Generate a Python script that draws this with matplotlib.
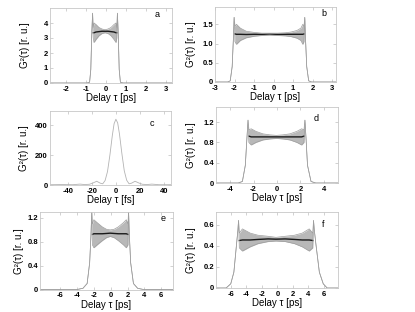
import numpy as np
import matplotlib
matplotlib.use("Agg")
import matplotlib.pyplot as plt

plt.rcParams['font.family'] = ['Liberation Sans', 'DejaVu Sans']

# ---- data (envelopes of the oscillating traces) ----
# a
tau_a = [-2.8, -0.95, -0.82, -0.76, -0.71, -0.67, -0.64, -0.6, -0.5, -0.35, -0.2, -0.05, 0.1, 0.25, 0.4, 0.5, 0.54, 0.57, 0.61, 0.66, 0.72, 0.85, 3.3]
upper_a = [0, 0, 0.05, 0.9, 3.4, 4.65, 3.7, 4.0, 3.9, 3.7, 3.6, 3.55, 3.6, 3.7, 3.9, 4.0, 3.7, 4.65, 3.4, 0.9, 0.05, 0, 0]
lower_a = [0, 0, 0.05, 0.9, 3.4, 4.65, 3.0, 2.7, 2.9, 3.15, 3.3, 3.35, 3.3, 3.15, 2.9, 2.7, 3.0, 4.65, 3.4, 0.9, 0.05, 0, 0]

# b
tau_b = [-3.0, -2.35, -2.22, -2.12, -2.06, -2.02, -1.98, -1.9, -1.7, -1.4, -1.0, -0.6, -0.2, 0.2, 0.6, 0.9, 1.2, 1.4, 1.5, 1.56, 1.6, 1.64, 1.7, 1.8, 1.95, 3.2]
upper_b = [0, 0, 0.03, 0.4, 1.1, 1.68, 1.45, 1.5, 1.4, 1.32, 1.29, 1.27, 1.27, 1.27, 1.28, 1.3, 1.34, 1.4, 1.5, 1.45, 1.68, 1.1, 0.4, 0.03, 0, 0]
lower_b = [0, 0, 0.03, 0.4, 1.1, 1.68, 1.05, 0.98, 1.08, 1.15, 1.19, 1.21, 1.22, 1.21, 1.2, 1.18, 1.14, 1.08, 0.98, 1.05, 1.68, 1.1, 0.4, 0.03, 0, 0]

# c (fs)
tau_c = [-55, -45, -36, -30, -26, -22, -19, -16, -13, -11, -9, -7, -5, -3, -1.5, 0, 1.5, 3, 5, 7, 9, 11, 13, 16, 19, 22, 26, 30, 36, 46]
g_c = [2, 3, 2, 6, 3, 5, 14, 25, 12, 8, 30, 90, 200, 330, 410, 440, 415, 340, 210, 95, 32, 8, 12, 25, 14, 5, 3, 6, 2, 2]

# d
tau_d = [-5.2, -3.3, -2.95, -2.7, -2.56, -2.47, -2.4, -2.2, -1.8, -1.2, -0.6, -0.05, 0.5, 1.1, 1.7, 2.1, 2.3, 2.38, 2.47, 2.6, 2.9, 3.3, 5.2]
upper_d = [0, 0, 0.03, 0.35, 0.9, 1.24, 1.05, 1.07, 1.02, 0.97, 0.95, 0.94, 0.95, 0.97, 1.02, 1.07, 1.05, 1.24, 0.9, 0.35, 0.03, 0, 0]
lower_d = [0, 0, 0.03, 0.35, 0.9, 1.24, 0.8, 0.75, 0.8, 0.85, 0.87, 0.88, 0.87, 0.85, 0.8, 0.75, 0.8, 1.24, 0.9, 0.35, 0.03, 0, 0]

# e
tau_e = [-8.4, -4.0, -3.3, -2.8, -2.5, -2.35, -2.25, -2.18, -2.0, -1.6, -1.0, -0.5, -0.06, 0.4, 0.9, 1.5, 1.85, 2.05, 2.12, 2.22, 2.37, 2.7, 3.2, 3.9, 7.4]
upper_e = [0, 0, 0.02, 0.1, 0.45, 0.9, 1.32, 1.1, 1.17, 1.12, 1.05, 1.01, 1.0, 1.01, 1.05, 1.12, 1.17, 1.1, 1.32, 0.9, 0.45, 0.1, 0.02, 0, 0]
lower_e = [0, 0, 0.02, 0.1, 0.45, 0.9, 1.32, 0.75, 0.7, 0.75, 0.82, 0.87, 0.89, 0.87, 0.82, 0.75, 0.7, 0.75, 1.32, 0.9, 0.45, 0.1, 0.02, 0, 0]

# f
tau_f = [-7.9, -6.6, -6.0, -5.6, -5.25, -5.08, -5.0, -4.9, -4.5, -3.5, -2.5, -1.2, -0.18, 1.0, 2.2, 3.2, 4.1, 4.55, 4.65, 4.75, 4.95, 5.4, 5.9, 6.4, 7.8]
upper_f = [0, 0, 0.04, 0.15, 0.42, 0.55, 0.64, 0.52, 0.56, 0.52, 0.5, 0.49, 0.48, 0.49, 0.5, 0.52, 0.56, 0.52, 0.64, 0.55, 0.42, 0.15, 0.04, 0, 0]
lower_f = [0, 0, 0.04, 0.15, 0.42, 0.55, 0.64, 0.38, 0.35, 0.39, 0.42, 0.44, 0.445, 0.44, 0.42, 0.39, 0.35, 0.38, 0.64, 0.55, 0.42, 0.15, 0.04, 0, 0]

ylabel = 'G²(τ) [r. u.]'
xlab_ps = 'Delay τ [ps]'
xlab_fs = 'Delay τ [fs]'

# ---- layout: [left, bottom, width, height] in figure fraction ----
W, H = 415, 312
def box(l, r, t, b):
    return [l / W, 1 - b / H, (r - l) / W, (b - t) / H]

panels = {
    'a': dict(rect=box(50, 172, 8, 83), xlim=(-2.8, 3.3), ylim=(0, 5),
              xt=[-2, -1, 0, 1, 2, 3], yt=[0, 1, 2, 3, 4], ytl=['0', '1', '2', '3', '4'],
              lab=(0.86, 0.88), ylx=30),
    'b': dict(rect=box(215, 336, 7, 82), xlim=(-3, 3.2), ylim=(0, 1.95),
              xt=[-3, -2, -1, 0, 1, 2, 3], yt=[0, 0.5, 1.0, 1.5], ytl=['0', '0.5', '1.0', '1.5'],
              lab=(0.88, 0.88), ylx=196),
    'c': dict(rect=box(50, 171, 111, 185), xlim=(-55, 46), ylim=(0, 495),
              xt=[-40, -20, 0, 20, 40], yt=[0, 200, 400], ytl=['0', '200', '400'],
              lab=(0.82, 0.8), ylx=29),
    'd': dict(rect=box(216, 338, 107, 183), xlim=(-5.2, 5.2), ylim=(0, 1.5),
              xt=[-4, -2, 0, 2, 4], yt=[0, 0.4, 0.8, 1.2], ytl=['0', '0.4', '0.8', '1.2'],
              lab=(0.8, 0.82), ylx=196),
    'e': dict(rect=box(40, 173, 212, 289.5), xlim=(-8.4, 7.4), ylim=(0, 1.3),
              xt=[-6, -4, -2, 0, 2, 4, 6], yt=[0, 0.4, 0.8, 1.2], ytl=['0', '0.4', '0.8', '1.2'],
              lab=(0.91, 0.89), ylx=24),
    'f': dict(rect=box(216, 338, 212, 288), xlim=(-7.9, 7.8), ylim=(0, 0.72),
              xt=[-6, -4, -2, 0, 2, 4, 6], yt=[0, 0.2, 0.4, 0.6], ytl=['0', '0.2', '0.4', '0.6'],
              lab=(0.87, 0.8), ylx=196),
}

traces = {
    'a': (tau_a, upper_a, lower_a),
    'b': (tau_b, upper_b, lower_b),
    'd': (tau_d, upper_d, lower_d),
    'e': (tau_e, upper_e, lower_e),
    'f': (tau_f, upper_f, lower_f),
}

fig = plt.figure(figsize=(W / 100, H / 100), dpi=100)

for key, p in panels.items():
    ax = fig.add_axes(p['rect'])
    if key == 'c':
        ax.plot(tau_c, g_c, color='0.7', lw=0.6)
        ax.set_xlabel(xlab_fs, fontsize=7, labelpad=0.5)
    else:
        t, up, lo = (np.array(v, dtype=float) for v in traces[key])
        ax.fill_between(t, lo, up, color='0.72', lw=0)
        band = up > lo
        mid = np.where(band, (up + lo) / 2, np.nan)
        ax.plot(t, mid, color='0.1', lw=1.0)
        ax.plot(t, up, color='0.62', lw=0.5)
        ax.plot(t, lo, color='0.62', lw=0.5)
        ax.set_xlabel(xlab_ps, fontsize=7, labelpad=0.5)

    ax.set_xlim(*p['xlim'])
    ax.set_ylim(*p['ylim'])
    ax.set_xticks(p['xt'])
    ax.set_xticklabels([str(v) for v in p['xt']], fontweight='bold')
    ax.set_yticks(p['yt'])
    ax.set_yticklabels(p['ytl'], fontweight='bold')
    ax.tick_params(direction='in', length=2, width=0.5, color='0.75', labelsize=5.5,
                   pad=1.5, top=True, right=True)
    ax.tick_params(axis='x', pad=2)
    for s in ax.spines.values():
        s.set_color('0.78')
        s.set_linewidth(0.6)
    ax.set_ylabel(ylabel, fontsize=7)
    l = p['rect'][0] * W
    ax.yaxis.set_label_coords((p['ylx'] - l) / (p['rect'][2] * W), 0.5)
    ax.text(p['lab'][0], p['lab'][1], key, transform=ax.transAxes, fontsize=6.5)

fig.savefig('out.png', dpi=100)
